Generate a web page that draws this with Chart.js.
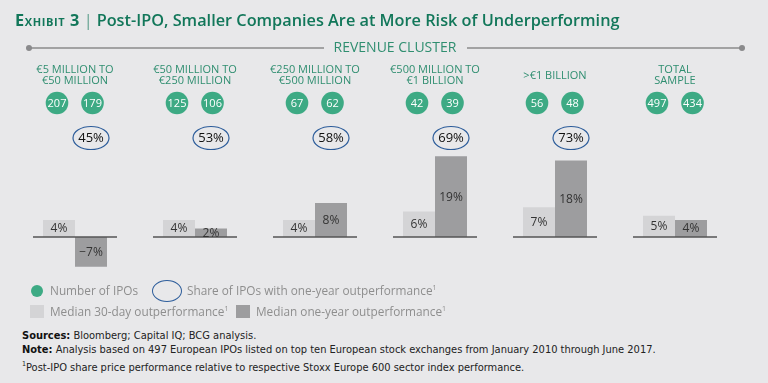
<!DOCTYPE html>
<html>
<head>
<meta charset="utf-8">
<script src="https://cdn.jsdelivr.net/npm/chart.js@4/dist/chart.umd.min.js"></script>
<style>
  html, body { margin: 0; padding: 0; background: #e8e8ea; }
  .page { position: relative; width: 768px; height: 383px; overflow: hidden; background: #e8e8ea; font-family: 'Open Sans', sans-serif; }
  .title { position: absolute; left: 15px; top: 9px; font-size: 16.3px; font-weight: 600; color: #12775a; white-space: nowrap; letter-spacing: 0; }
  .title .ex { font-variant: small-caps; font-weight: 700; letter-spacing: 0.6px; }
  .title .bar { font-weight: 300; padding: 0 4px; }
  canvas { position: absolute; left: 0; top: 0; }
  .legend { position: absolute; left: 0; font-size: 11.8px; color: #8e8e8e; white-space: nowrap; font-weight: 400; }
  .legend span { position: absolute; }
  .legend sup, .notes sup { font-size: 7px; vertical-align: 5px; }
  .sw { position: absolute; }
  .notes { position: absolute; left: 22px; top: 329px; font-size: 11px; line-height: 14px; color: #222; white-space: nowrap; font-family: 'Liberation Sans Narrow', 'DejaVu Sans Condensed', sans-serif; }
  .notes b { font-weight: 700; color: #111; }
</style>
</head>
<body>
<div class="page">
  <canvas id="chart" width="768" height="283"></canvas>
  <div class="title"><span class="ex">Exhibit 3</span><span class="bar">|</span>Post-IPO, Smaller Companies Are at More Risk of Underperforming</div>

  <div class="sw" style="left:31px;top:285px;width:12px;height:12px;border-radius:50%;background:#3daa84;"></div>
  <div class="legend" style="top:282px;"><span style="left:50px;" id="lg0"></span></div>
  <div class="sw" style="left:152px;top:280px;width:28px;height:20px;border-radius:50%;border:1.3px solid #2d5d9b;"></div>
  <div class="legend" style="top:282px;"><span style="left:187px;" id="lg1"></span></div>

  <div class="sw" style="left:30px;top:305px;width:14px;height:13px;background:#d4d4d6;"></div>
  <div class="legend" style="top:303px;"><span style="left:50px;" id="lg2"></span></div>
  <div class="sw" style="left:236px;top:305px;width:14px;height:13px;background:#9d9d9f;"></div>
  <div class="legend" style="top:303px;"><span style="left:256px;" id="lg3"></span></div>

  <div class="notes">
    <div><b>Sources:</b> Bloomberg; Capital IQ; BCG analysis.</div>
    <div><b>Note:</b> Analysis based on 497 European IPOs listed on top ten European stock exchanges from January 2010 through June 2017.</div>
    <div><sup>1</sup>Post-IPO share price performance relative to respective Stoxx Europe 600 sector index performance.</div>
  </div>
</div>

<script>
// revenue clusters (x categories)
const categories = [
  ['€5 MILLION TO', '€50 MILLION'],
  ['€50 MILLION TO', '€250 MILLION'],
  ['€250 MILLION TO', '€500 MILLION'],
  ['€500 MILLION TO', '€1 BILLION'],
  ['>€1 BILLION'],
  ['TOTAL', 'SAMPLE'],
];
// number of IPOs (two green circles per cluster)
const iposFirst = [207, 125, 67, 42, 56, 497];
const iposSecond = [179, 106, 62, 39, 48, 434];
// share of IPOs with one-year outperformance, %
const shareOutperforming = [45, 53, 58, 69, 73, null];
// median outperformance, %
const median30Day = [4, 4, 4, 6, 7, 5];
const medianOneYear = [-7, 2, 8, 19, 18, 4];

const legendLabels = [
  'Number of IPOs',
  'Share of IPOs with one-year outperformance',
  'Median 30-day outperformance',
  'Median one-year outperformance',
];
const supOne = '<sup>1</sup>';
document.getElementById('lg0').innerHTML = legendLabels[0];
document.getElementById('lg1').innerHTML = legendLabels[1] + supOne;
document.getElementById('lg2').innerHTML = legendLabels[2] + supOne;
document.getElementById('lg3').innerHTML = legendLabels[3] + supOne;

const GREEN = '#3daa84';
const LABEL_GREEN = '#2f8e70';

const overlay = {
  id: 'overlay',
  afterDatasetsDraw(chart) {
    const { ctx } = chart;
    const x = chart.scales.x;
    const y = chart.scales.y;
    const zero = y.getPixelForValue(0);

    ctx.save();

    // revenue cluster rule
    ctx.strokeStyle = '#8a8a8c';
    ctx.fillStyle = '#8a8a8c';
    ctx.lineWidth = 1.3;
    ctx.beginPath();
    ctx.moveTo(29, 48); ctx.lineTo(324, 48);
    ctx.moveTo(467, 48); ctx.lineTo(742, 48);
    ctx.stroke();
    [29, 742].forEach((px) => {
      ctx.beginPath(); ctx.arc(px, 48, 3, 0, Math.PI * 2); ctx.fill();
    });
    ctx.fillStyle = LABEL_GREEN;
    ctx.font = '14px "Open Sans", sans-serif';
    ctx.textAlign = 'center';
    ctx.textBaseline = 'middle';
    ctx.fillText('REVENUE CLUSTER', 395, 48);

    categories.forEach((lines, i) => {
      const cx = x.getPixelForValue(i);

      // cluster labels
      ctx.fillStyle = LABEL_GREEN;
      ctx.font = '11px "Open Sans", sans-serif';
      ctx.textAlign = 'center';
      ctx.textBaseline = 'middle';
      if (lines.length === 1) {
        ctx.fillText(lines[0], cx, 76);
      } else {
        lines.forEach((ln, j) => ctx.fillText(ln, cx, 70 + j * 11));
      }

      // IPO count circles
      [[iposFirst[i], cx - 18], [iposSecond[i], cx + 17.5]].forEach(([n, px]) => {
        ctx.fillStyle = GREEN;
        ctx.beginPath(); ctx.arc(px, 103, 11.3, 0, Math.PI * 2); ctx.fill();
        ctx.fillStyle = '#ffffff';
        ctx.font = '11px "Open Sans", sans-serif';
        ctx.fillText(String(n), px, 103.5);
      });

      // share ellipse
      if (shareOutperforming[i] != null) {
        const ex = cx + 16;
        ctx.strokeStyle = '#2d5d9b';
        ctx.lineWidth = 1.2;
        ctx.beginPath(); ctx.ellipse(ex, 138, 18, 11.5, 0, 0, Math.PI * 2); ctx.stroke();
        ctx.fillStyle = '#111';
        ctx.font = '13px "Open Sans", sans-serif';
        ctx.fillText(shareOutperforming[i] + '%', ex, 138.5);
      }

      // baseline
      ctx.strokeStyle = '#555';
      ctx.lineWidth = 1.3;
      ctx.beginPath(); ctx.moveTo(cx - 42, zero); ctx.lineTo(cx + 42, zero); ctx.stroke();
    });

    // bar value labels
    ctx.fillStyle = '#333';
    ctx.font = '12px "Open Sans", sans-serif';
    chart.data.datasets.forEach((ds, di) => {
      chart.getDatasetMeta(di).data.forEach((bar, i) => {
        const v = ds.data[i];
        const txt = (v < 0 ? '\u2212' : '') + Math.abs(v) + '%';
        ctx.fillText(txt, bar.x, (bar.y + bar.base) / 2 + 0.5);
      });
    });

    ctx.restore();
  },
};

new Chart(document.getElementById('chart'), {
  type: 'bar',
  data: {
    labels: categories,
    datasets: [
      { label: legendLabels[2], data: median30Day, backgroundColor: '#d4d4d6' },
      { label: legendLabels[3], data: medianOneYear, backgroundColor: '#9d9d9f' },
    ],
  },
  options: {
    responsive: false,
    animation: false,
    categoryPercentage: 64 / 120,
    barPercentage: 1,
    layout: { padding: { left: 15, right: 33, top: 101, bottom: 3.5 } },
    scales: {
      x: { display: false },
      y: { display: false, min: -10, max: 32 },
    },
    plugins: { legend: { display: false }, tooltip: { enabled: false } },
  },
  plugins: [overlay],
});
</script>
</body>
</html>
